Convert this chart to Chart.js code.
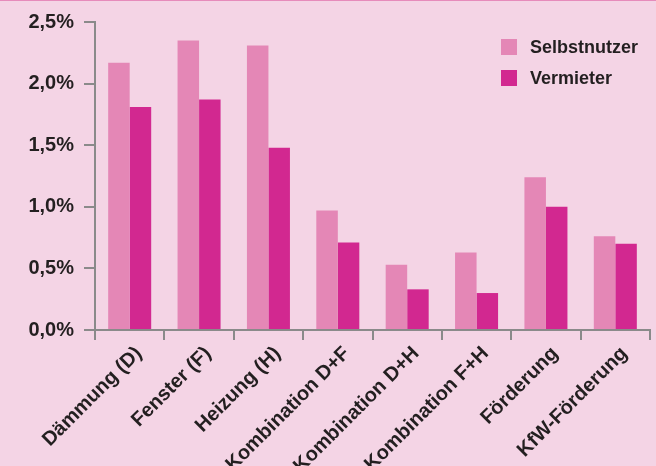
<!DOCTYPE html>
<html>
<head>
<meta charset="utf-8">
<script src="https://cdn.jsdelivr.net/npm/chart.js@4.4.1/dist/chart.umd.min.js"></script>
<style>
    html, body { margin: 0; padding: 0; background: #f4d4e5; overflow: hidden; }
    #wrap { position: relative; width: 656px; height: 466px; }
    #topLine { position: absolute; left: 0; top: 0; width: 656px; height: 1px; background: #e68bbb; }
    canvas { position: absolute; left: 0; top: 0; }
</style>
</head>
<body>
<div id="wrap">
    <canvas id="barChart" width="656" height="466"></canvas>
    <div id="topLine"></div>
</div>
<script>
var categories = ["Dämmung (D)", "Fenster (F)", "Heizung (H)", "Kombination D+F", "Kombination D+H", "Kombination F+H", "Förderung", "KfW-Förderung"];
var selbstnutzer = [2.17, 2.35, 2.31, 0.97, 0.53, 0.63, 1.24, 0.76];
var vermieter = [1.81, 1.87, 1.48, 0.71, 0.33, 0.30, 1.00, 0.70];
var seriesNames = ["Selbstnutzer", "Vermieter"];
var colors = ["#e487b6", "#d22890"];
var yTicks = [0, 0.5, 1.0, 1.5, 2.0, 2.5];

var textColor = "#231f20";
var axisColor = "#8a8a8a";
var fontFamily = "'Liberation Sans', Arial, sans-serif";

// legend drawn inside the plot, top right
var boxLegend = {
    id: "boxLegend",
    afterDraw: function (chart) {
        var ctx = chart.ctx;
        ctx.save();
        ctx.font = "bold 18px " + fontFamily;
        ctx.textBaseline = "middle";
        ctx.textAlign = "left";
        chart.data.datasets.forEach(function (ds, i) {
            var y = 39 + i * 31;
            ctx.fillStyle = ds.backgroundColor;
            ctx.fillRect(501, y, 16, 16);
            ctx.fillStyle = textColor;
            ctx.fillText(ds.label, 530, y + 9);
        });
        ctx.restore();
    }
};

var ctx = document.getElementById("barChart").getContext("2d");
var barChart = new Chart(ctx, {
    type: "bar",
    data: {
        labels: categories,
        datasets: [{
            label: seriesNames[0],
            backgroundColor: colors[0],
            data: selbstnutzer
        }, {
            label: seriesNames[1],
            backgroundColor: colors[1],
            data: vermieter
        }]
    },
    options: {
        responsive: false,
        animation: false,
        categoryPercentage: 0.62,
        barPercentage: 1.0,
        layout: { padding: { top: 22, right: 6, left: 0, bottom: 0 } },
        plugins: {
            legend: { display: false },
            tooltip: { enabled: false }
        },
        scales: {
            x: {
                grid: {
                    drawOnChartArea: false,
                    color: axisColor,
                    lineWidth: 2,
                    tickLength: 10,
                    offset: true
                },
                border: { color: axisColor, width: 2 },
                ticks: {
                    color: textColor,
                    font: { family: fontFamily, size: 20, weight: "bold" },
                    minRotation: 45,
                    maxRotation: 45,
                    padding: 2,
                    labelOffset: 9,
                    autoSkip: false
                },
                afterFit: function (scale) { scale.height = 136; }
            },
            y: {
                min: 0,
                max: 2.5,
                grid: {
                    drawOnChartArea: false,
                    color: axisColor,
                    lineWidth: 2,
                    tickLength: 11
                },
                border: { color: axisColor, width: 2 },
                afterBuildTicks: function (scale) {
                    scale.ticks = yTicks.map(function (v) { return { value: v }; });
                },
                ticks: {
                    color: textColor,
                    padding: 10,
                    font: { family: fontFamily, size: 20, weight: "bold" },
                    callback: function (v) { return v.toFixed(1).replace(".", ",") + "%"; }
                },
                afterFit: function (scale) { scale.width = 95; }
            }
        }
    },
    plugins: [boxLegend]
});
</script>
</body>
</html>
